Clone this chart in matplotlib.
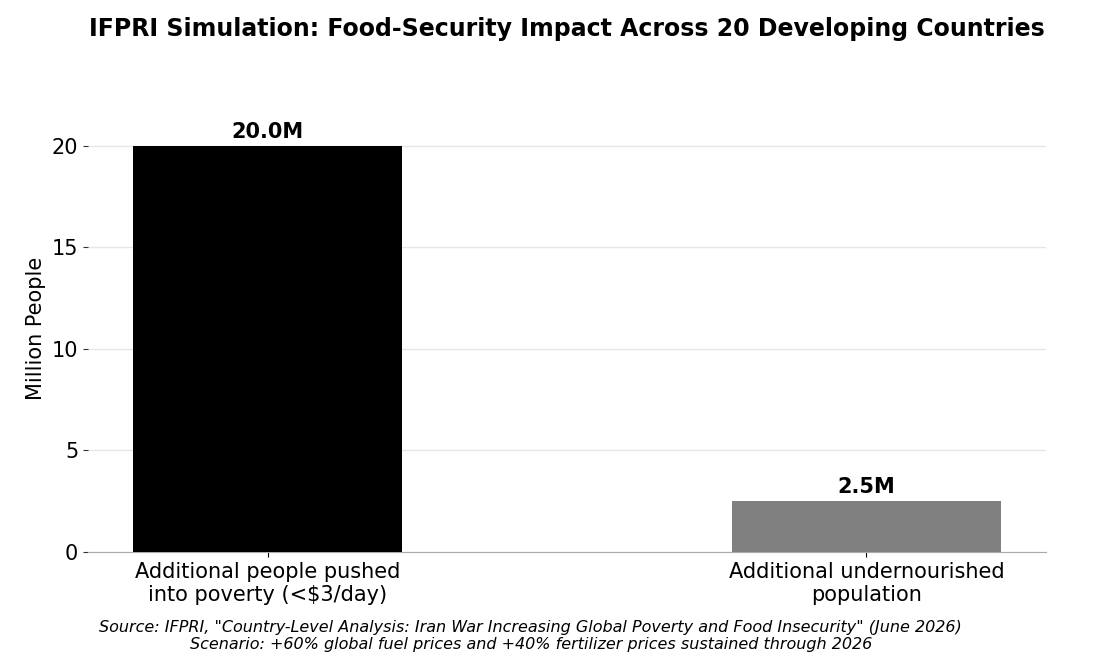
import matplotlib
matplotlib.use("Agg")
import matplotlib.pyplot as plt

categories = ["Additional people pushed\ninto poverty (<$3/day)", "Additional undernourished\npopulation"]
values = [20.0, 2.5]
colors = ["#000000", "#808080"]

fig = plt.figure(figsize=(11.01, 6.69), dpi=100)
ax = fig.add_axes([0.08, 0.175, 0.87, 0.668])
x = list(range(len(values)))
ax.bar(x, values, width=0.45, color=colors, zorder=3)
for xi, v in zip(x, values):
    ax.text(xi, v + 0.2, f"{v:.1f}M", ha="center", va="bottom", fontsize=15, fontweight="bold")
ax.set_xlim(-0.3, 1.3)
ax.set_ylim(0, 22)
ax.set_yticks([0, 5, 10, 15, 20])
ax.set_xticks(x)
ax.set_xticklabels(categories, fontsize=15)
ax.tick_params(axis="y", labelsize=15, color="#333333")
ax.set_ylabel("Million People", fontsize=15)
ax.yaxis.grid(True, color="#e6e6e6", linewidth=1, zorder=0)
for s in ["top", "right", "left"]:
    ax.spines[s].set_visible(False)
ax.spines["bottom"].set_color("#aaaaaa")
fig.suptitle("IFPRI Simulation: Food-Security Impact Across 20 Developing Countries",
             fontsize=17, fontweight="bold", x=0.515, y=0.975)
fig.text(0.482, 0.025, 'Source: IFPRI, "Country-Level Analysis: Iran War Increasing Global Poverty and Food Insecurity" (June 2026)\nScenario: +60% global fuel prices and +40% fertilizer prices sustained through 2026',
         ha="center", va="bottom", fontsize=11.5, style="italic")
fig.savefig("out.png", dpi=100)
